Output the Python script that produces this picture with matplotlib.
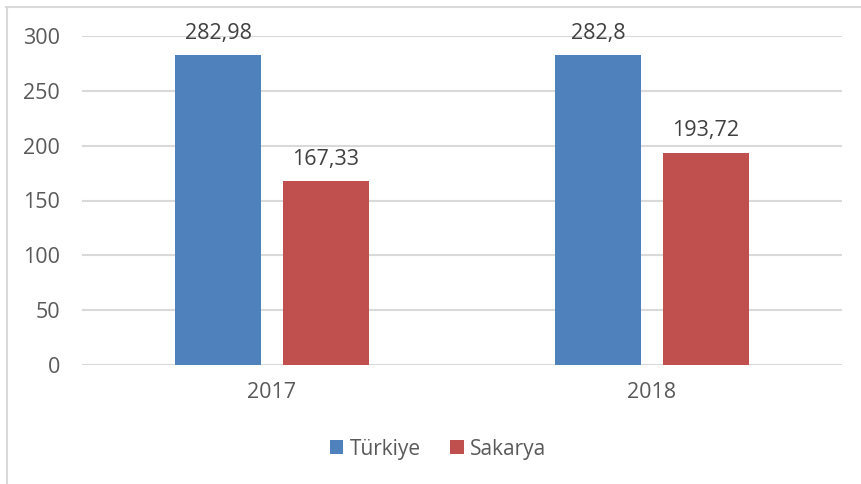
import matplotlib
matplotlib.use('Agg')

import matplotlib.pyplot as plt
import numpy as np

years = ["2017", "2018"]
turkiye = [282.98, 282.8]
sakarya = [167.33, 193.72]
yticks = [0, 50, 100, 150, 200, 250, 300]

plt.rcParams['font.family'] = ['Open Sans', 'DejaVu Sans']
txt = "#595959"

fig = plt.figure(figsize=(8.61, 4.84), dpi=100)
# outer chart frame (only top and left visible, like the cropped original)
fig.add_artist(plt.Line2D([6/861, 1], [1 - 7/484, 1 - 7/484], color="#D9D9D9", lw=1.5))
fig.add_artist(plt.Line2D([7/861, 7/861], [0, 1 - 7/484], color="#D9D9D9", lw=1.5))

ax = fig.add_axes([82/861, 1 - 365/484, 760/861, 329/484])

x = np.arange(len(years))
w = 0.224
off = 0.142
b1 = ax.bar(x - off, turkiye, width=w, color="#4F81BD", label="Türkiye", zorder=3)
b2 = ax.bar(x + off, sakarya, width=w, color="#C0504D", label="Sakarya", zorder=3)

for bars, vals in ((b1, turkiye), (b2, sakarya)):
    for rect, v in zip(bars, vals):
        lbl = ("%g" % v).replace(".", ",")
        ax.annotate(lbl, (rect.get_x() + rect.get_width() / 2, v), xytext=(0, 8),
                    textcoords="offset points", ha="center", va="bottom",
                    fontsize=15.5, color="#404040")

ax.set_xlim(-0.5, 1.5)
ax.set_ylim(0, 300)
ax.set_yticks(yticks)
ax.set_xticks(x)
ax.set_xticklabels(years)
ax.yaxis.grid(True, color="#D9D9D9", lw=1.5, zorder=0)
ax.set_axisbelow(True)
for s in ax.spines.values():
    s.set_visible(False)
ax.tick_params(length=0, labelsize=15.5, colors=txt)
ax.tick_params(axis='y', pad=16)
ax.tick_params(axis='x', pad=12)

fig.legend(handles=[b1, b2], loc="center", bbox_to_anchor=(438/861, 1 - 449/484),
           ncol=2, frameon=False, fontsize=15, labelcolor=txt,
           handlelength=0.65, handleheight=0.65, handletextpad=0.3, columnspacing=1.4)

plt.savefig("out.png", dpi=100)
